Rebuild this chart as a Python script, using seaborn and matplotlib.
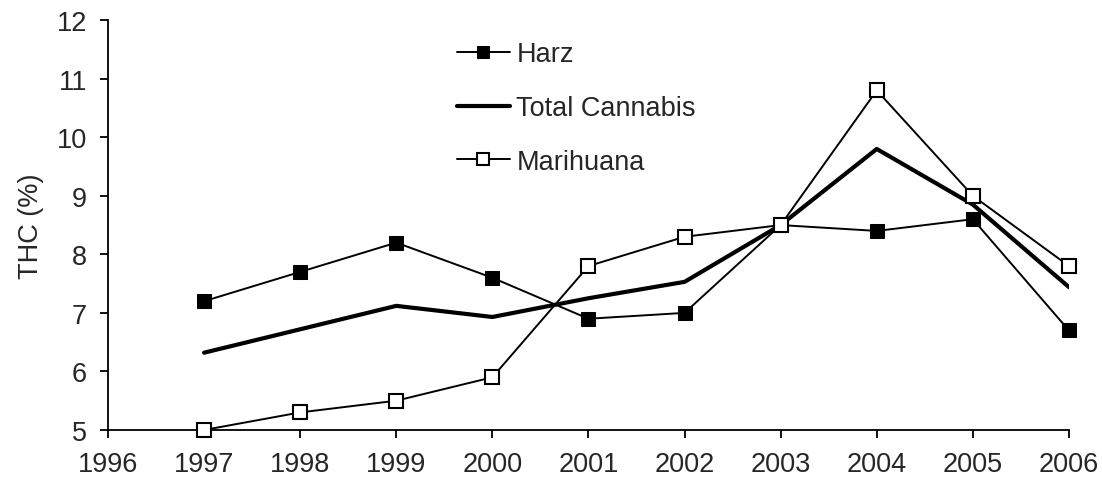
import pandas as pd
import matplotlib
matplotlib.use("Agg")
import matplotlib.pyplot as plt
import seaborn as sns

# THC content by year
years = [1997, 1998, 1999, 2000, 2001, 2002, 2003, 2004, 2005, 2006]
harz = [7.2, 7.7, 8.2, 7.6, 6.9, 7.0, 8.5, 8.4, 8.6, 6.7]
total_cannabis = [6.32, 6.72, 7.12, 6.93, 7.25, 7.53, 8.5, 9.8, 8.85, 7.44]
marihuana = [5.0, 5.3, 5.5, 5.9, 7.8, 8.3, 8.5, 10.8, 9.0, 7.8]

x_ticks = list(range(1996, 2007))
y_ticks = list(range(5, 13))

df = pd.DataFrame({"Year": years, "Harz": harz,
                   "Total Cannabis": total_cannabis, "Marihuana": marihuana})

sns.set_style("ticks")
plt.rcParams["font.family"] = ["Liberation Sans", "DejaVu Sans"]

fig = plt.figure(figsize=(11.02, 4.81), dpi=100)
ax = fig.add_axes([0.098, 0.104, 0.872, 0.852])

sns.lineplot(data=df, x="Year", y="Total Cannabis", ax=ax, color="black",
             linewidth=3.0, label="Total Cannabis", zorder=2)
sns.lineplot(data=df, x="Year", y="Harz", ax=ax, color="black", linewidth=1.4,
             marker="s", markersize=10, markerfacecolor="black",
             markeredgecolor="black", label="Harz", zorder=3, clip_on=False)
sns.lineplot(data=df, x="Year", y="Marihuana", ax=ax, color="black", linewidth=1.4,
             marker="s", markersize=10, markerfacecolor="white",
             markeredgecolor="black", markeredgewidth=1.5,
             label="Marihuana", zorder=4, clip_on=False)

ax.set_xlim(1996, 2006)
ax.set_ylim(5, 12)
ax.set_xticks(x_ticks)
ax.set_yticks(y_ticks)
ax.set_xlabel("")
ax.set_ylabel("THC (%)", fontsize=19.5, labelpad=9)
ax.tick_params(axis="both", labelsize=19.5, length=6, width=1.3, direction="out",
               color="black")
ax.tick_params(axis="x", pad=9)
ax.tick_params(axis="y", pad=9)
for side in ["left", "bottom"]:
    ax.spines[side].set_linewidth(1.3)
    ax.spines[side].set_color("black")
sns.despine(ax=ax)

handles, labels = ax.get_legend_handles_labels()
order = [labels.index(n) for n in ["Harz", "Total Cannabis", "Marihuana"]]
ax.legend([handles[i] for i in order], [labels[i] for i in order],
          loc="upper left", bbox_to_anchor=(0.363, 0.948), frameon=False,
          fontsize=19.5, handlelength=1.95, handletextpad=0.25,
          labelspacing=1.02, markerscale=0.9, borderpad=0, borderaxespad=0)

fig.savefig("out.png", dpi=100)
